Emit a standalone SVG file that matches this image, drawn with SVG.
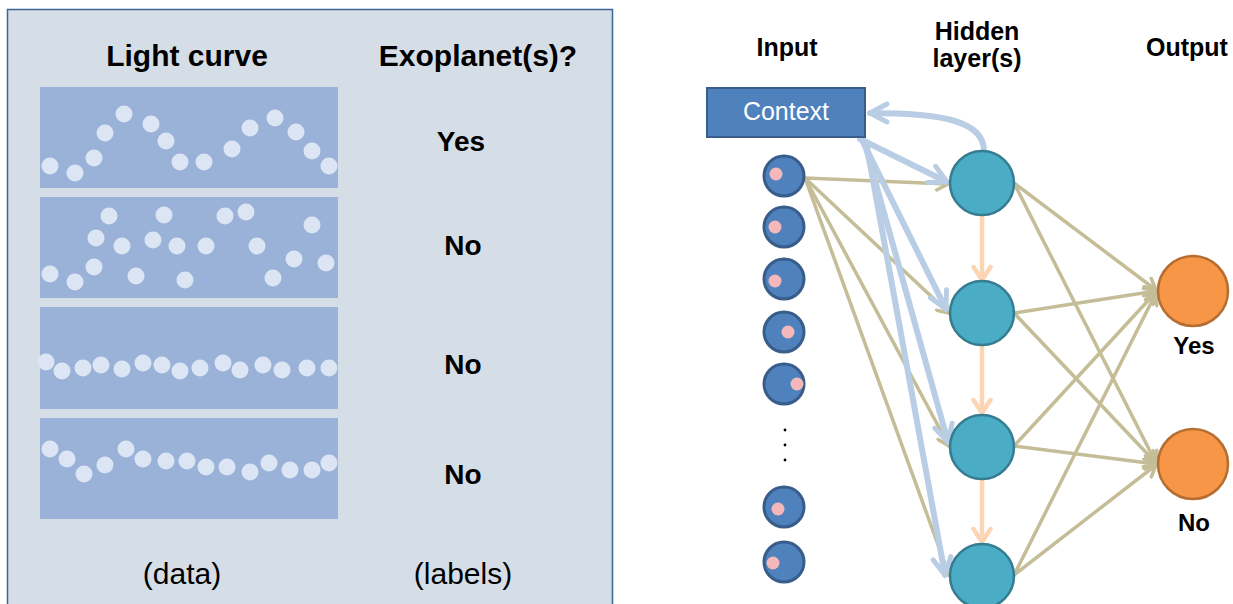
<svg xmlns="http://www.w3.org/2000/svg" width="1233" height="604" viewBox="0 0 1233 604">
<defs>
<style>
.hdr{font-family:"Liberation Sans",Arial,sans-serif;font-weight:bold;font-size:30px;fill:#000;text-anchor:middle}
.lab{font-family:"Liberation Sans",Arial,sans-serif;font-weight:bold;font-size:28px;fill:#000;text-anchor:middle}
.foot{font-family:"Liberation Sans",Arial,sans-serif;font-size:30px;fill:#000;text-anchor:middle}
.nh{font-family:"Liberation Sans",Arial,sans-serif;font-weight:bold;font-size:25px;fill:#000;text-anchor:middle}
.ol{font-family:"Liberation Sans",Arial,sans-serif;font-weight:bold;font-size:24px;fill:#000;text-anchor:middle}
.curve{fill:#9AB2D8}
.dot{fill:#DCE5F3}
.inp{fill:#4F81BD;stroke:#385D8A;stroke-width:3}
.pink{fill:#F4B8BA}
.hid{fill:#4BACC6;stroke:#357D91;stroke-width:2.5}
.out{fill:#F79646;stroke:#B66D31;stroke-width:2.5}
.tan{fill:none;stroke:#C4BD97;stroke-width:3.5;stroke-linecap:round;marker-end:url(#aTan)}
.blu{fill:none;stroke:#B9CDE5;stroke-width:6;stroke-linecap:round;marker-end:url(#aBlu)}
.pch{fill:none;stroke:#FCD5B5;stroke-width:4.5;marker-end:url(#aPch)}
</style>
<marker id="aTan" viewBox="0 0 16 16" refX="14" refY="8" markerWidth="16" markerHeight="16" orient="auto" markerUnits="userSpaceOnUse">
<path d="M3,1.5 L14,8 L3,14.5" fill="none" stroke="#C4BD97" stroke-width="3.5" stroke-linecap="round" stroke-linejoin="round"/>
</marker>
<marker id="aBlu" viewBox="0 0 24 24" refX="21" refY="12" markerWidth="24" markerHeight="24" orient="auto" markerUnits="userSpaceOnUse">
<path d="M4,3 L21,12 L4,21" fill="none" stroke="#B9CDE5" stroke-width="5" stroke-linecap="round" stroke-linejoin="round"/>
</marker>
<marker id="aPch" viewBox="0 0 22 22" refX="19" refY="11" markerWidth="22" markerHeight="22" orient="auto" markerUnits="userSpaceOnUse">
<path d="M6,2.5 L19,11 L6,19.5" fill="none" stroke="#FCD5B5" stroke-width="4.5" stroke-linecap="round" stroke-linejoin="round"/>
</marker>
</defs>
<rect x="0" y="0" width="1233" height="604" fill="#FFFFFF"/>

<g id="panel">
<rect x="7.5" y="9.5" width="605" height="610" fill="#D5DDE7" stroke="#3B6592" stroke-width="1.5"/>
<text class="hdr" x="187" y="66">Light curve</text>
<text class="hdr" x="478" y="66">Exoplanet(s)?</text>
</g>

<g id="curve1">
<rect class="curve" x="40" y="87" width="298" height="101"/>
<g class="dot">
<circle cx="50" cy="166" r="8.5"/><circle cx="75" cy="173" r="8.5"/><circle cx="94" cy="158" r="8.5"/><circle cx="105" cy="133" r="8.5"/><circle cx="124" cy="114" r="8.5"/><circle cx="151" cy="124" r="8.5"/><circle cx="166" cy="141" r="8.5"/><circle cx="180" cy="162" r="8.5"/><circle cx="204" cy="162" r="8.5"/><circle cx="232" cy="149" r="8.5"/><circle cx="250" cy="128" r="8.5"/><circle cx="275" cy="118" r="8.5"/><circle cx="296" cy="132" r="8.5"/><circle cx="312" cy="151" r="8.5"/><circle cx="329" cy="166" r="8.5"/>
</g>
<text class="lab" x="461" y="151">Yes</text>
</g>

<g id="curve2">
<rect class="curve" x="40" y="197" width="298" height="101"/>
<g class="dot">
<circle cx="109" cy="216" r="8.5"/><circle cx="164" cy="215" r="8.5"/><circle cx="225" cy="216" r="8.5"/><circle cx="246" cy="212" r="8.5"/><circle cx="312" cy="225" r="8.5"/><circle cx="96" cy="238" r="8.5"/><circle cx="122" cy="246" r="8.5"/><circle cx="153" cy="240" r="8.5"/><circle cx="177" cy="246" r="8.5"/><circle cx="206" cy="246" r="8.5"/><circle cx="257" cy="246" r="8.5"/><circle cx="50" cy="274" r="8.5"/><circle cx="75" cy="282" r="8.5"/><circle cx="94" cy="267" r="8.5"/><circle cx="136" cy="276" r="8.5"/><circle cx="185" cy="280" r="8.5"/><circle cx="273" cy="278" r="8.5"/><circle cx="294" cy="259" r="8.5"/><circle cx="326" cy="263" r="8.5"/>
</g>
<text class="lab" x="463" y="255">No</text>
</g>

<g id="curve3">
<rect class="curve" x="40" y="307" width="298" height="102"/>
<g class="dot">
<circle cx="46" cy="362" r="8.5"/><circle cx="62" cy="371" r="8.5"/><circle cx="83" cy="368" r="8.5"/><circle cx="101" cy="365" r="8.5"/><circle cx="122" cy="369" r="8.5"/><circle cx="143" cy="363" r="8.5"/><circle cx="162" cy="365" r="8.5"/><circle cx="180" cy="371" r="8.5"/><circle cx="200" cy="368" r="8.5"/><circle cx="223" cy="363" r="8.5"/><circle cx="240" cy="370" r="8.5"/><circle cx="263" cy="365" r="8.5"/><circle cx="282" cy="370" r="8.5"/><circle cx="307" cy="368" r="8.5"/><circle cx="329" cy="368" r="8.5"/>
</g>
<text class="lab" x="463" y="374">No</text>
</g>

<g id="curve4">
<rect class="curve" x="40" y="418" width="298" height="101"/>
<g class="dot">
<circle cx="50" cy="449" r="8.5"/><circle cx="67" cy="459" r="8.5"/><circle cx="84" cy="474" r="8.5"/><circle cx="105" cy="465" r="8.5"/><circle cx="126" cy="449" r="8.5"/><circle cx="143" cy="459" r="8.5"/><circle cx="166" cy="461" r="8.5"/><circle cx="187" cy="461" r="8.5"/><circle cx="206" cy="467" r="8.5"/><circle cx="227" cy="467" r="8.5"/><circle cx="250" cy="472" r="8.5"/><circle cx="269" cy="463" r="8.5"/><circle cx="290" cy="470" r="8.5"/><circle cx="312" cy="470" r="8.5"/><circle cx="329" cy="463" r="8.5"/>
</g>
<text class="lab" x="463" y="484">No</text>
</g>

<g id="footer">
<text class="foot" x="182" y="584">(data)</text>
<text class="foot" x="463" y="584">(labels)</text>
</g>

<g id="layer-titles">
<text class="nh" x="787" y="56">Input</text>
<text class="nh" x="977" y="40">Hidden</text>
<text class="nh" x="977" y="67">layer(s)</text>
<text class="nh" x="1187" y="56">Output</text>
</g>

<g id="connectors">
<line class="tan" x1="805" y1="178" x2="948" y2="184"/>
<line class="tan" x1="805" y1="178" x2="949" y2="313"/>
<line class="tan" x1="805" y1="178" x2="949" y2="446"/>
<line class="tan" x1="805" y1="178" x2="949" y2="575"/>
<line class="tan" x1="1014" y1="183" x2="1156" y2="290"/>
<line class="tan" x1="1014" y1="183" x2="1156" y2="463"/>
<line class="tan" x1="1014" y1="313" x2="1156" y2="291"/>
<line class="tan" x1="1014" y1="313" x2="1156" y2="463"/>
<line class="tan" x1="1014" y1="446" x2="1156" y2="292"/>
<line class="tan" x1="1014" y1="446" x2="1156" y2="464"/>
<line class="tan" x1="1014" y1="575" x2="1156" y2="293"/>
<line class="tan" x1="1014" y1="575" x2="1156" y2="465"/>
<line class="blu" x1="860" y1="139" x2="947" y2="182"/>
<line class="blu" x1="862" y1="140" x2="946" y2="309"/>
<line class="blu" x1="864" y1="141" x2="948" y2="442"/>
<line class="blu" x1="866" y1="142" x2="945" y2="575"/>
<path class="blu" d="M984,151 C984,121 942,113 870,113"/>
<line class="pch" x1="982" y1="216" x2="982" y2="280"/>
<line class="pch" x1="982" y1="346" x2="982" y2="413"/>
<line class="pch" x1="982" y1="479" x2="982" y2="542"/>
</g>

<g id="context">
<rect x="707" y="88" width="158" height="49" fill="#4F81BD" stroke="#385D8A" stroke-width="2"/>
<text x="786" y="120" font-family="Liberation Sans, Arial, sans-serif" font-size="25" fill="#FFFFFF" text-anchor="middle">Context</text>
</g>

<g id="input1"><circle class="inp" cx="784" cy="176" r="20"/><circle class="pink" cx="776" cy="174" r="6.5"/></g>
<g id="input2"><circle class="inp" cx="784" cy="227" r="20"/><circle class="pink" cx="775" cy="227" r="6.5"/></g>
<g id="input3"><circle class="inp" cx="784" cy="279" r="20"/><circle class="pink" cx="775" cy="281" r="6.5"/></g>
<g id="input4"><circle class="inp" cx="784" cy="332" r="20"/><circle class="pink" cx="788" cy="332" r="6.5"/></g>
<g id="input5"><circle class="inp" cx="784" cy="384" r="20"/><circle class="pink" cx="797" cy="384" r="6.5"/></g>
<g id="ellipsis" fill="#000"><circle cx="785" cy="430" r="1.4"/><circle cx="785" cy="445" r="1.4"/><circle cx="785" cy="460" r="1.4"/></g>
<g id="input6"><circle class="inp" cx="784" cy="507" r="20"/><circle class="pink" cx="778" cy="509" r="6.5"/></g>
<g id="input7"><circle class="inp" cx="784" cy="562" r="20"/><circle class="pink" cx="773" cy="563" r="6.5"/></g>

<g id="hidden1"><circle class="hid" cx="982" cy="183" r="32"/></g>
<g id="hidden2"><circle class="hid" cx="982" cy="313" r="32"/></g>
<g id="hidden3"><circle class="hid" cx="982" cy="447" r="32"/></g>
<g id="hidden4"><circle class="hid" cx="982" cy="576" r="32"/></g>

<g id="outYes"><circle class="out" cx="1193" cy="291" r="35"/><text class="ol" x="1194" y="354">Yes</text></g>
<g id="outNo"><circle class="out" cx="1193" cy="464" r="35"/><text class="ol" x="1194" y="531">No</text></g>
</svg>
